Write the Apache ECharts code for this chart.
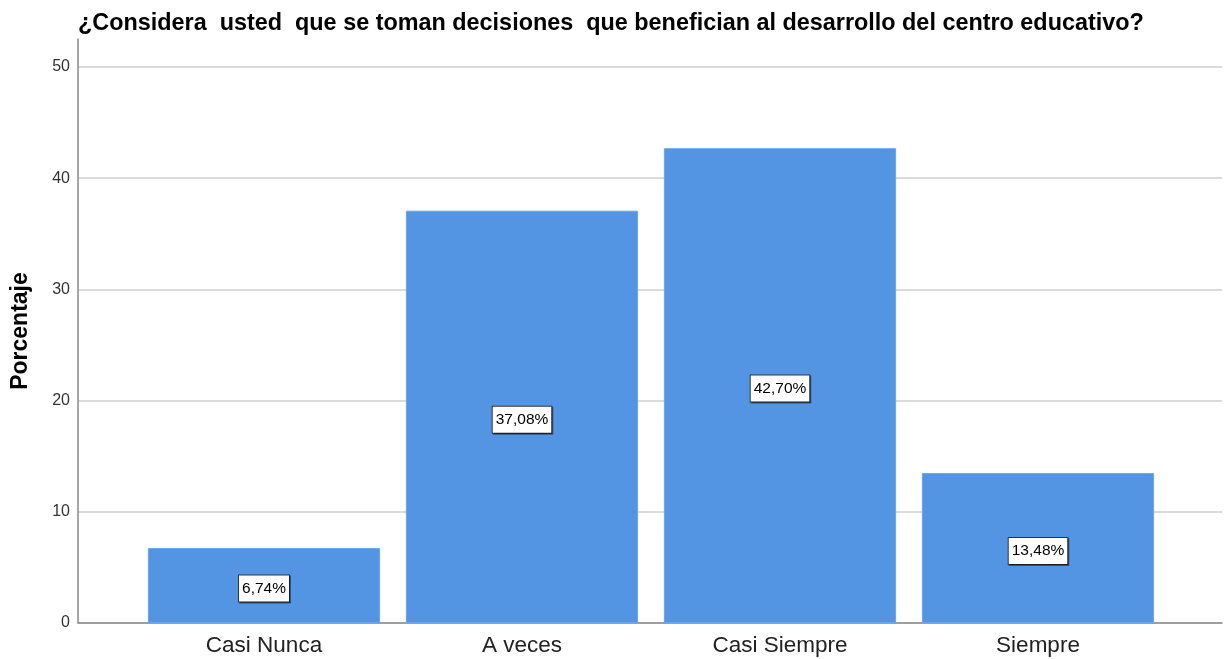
<!DOCTYPE html>
<html>
<head>
<meta charset="utf-8">
<script src="https://cdn.jsdelivr.net/npm/echarts@6/dist/echarts.min.js"></script>
<style>
html,body{margin:0;padding:0;background:#fff;}
#main{width:1227px;height:659px;}
</style>
</head>
<body>
<div id="main"></div>
<script>
var titleText = '¿Considera  usted  que se toman decisiones  que benefician al desarrollo del centro educativo?';
var categories = ['Casi Nunca', 'A veces', 'Casi Siempre', 'Siempre'];
var percentages = [6.74, 37.08, 42.70, 13.48];
var yTicks = [0, 10, 20, 30, 40, 50];

var FONT = '"Liberation Sans", Arial, sans-serif';
var chart = echarts.init(document.getElementById('main'), null, {renderer: 'canvas'});

var option = {
  animation: false,
  backgroundColor: '#ffffff',
  title: {
    text: titleText,
    left: 73,
    top: 7,
    textStyle: {fontFamily: FONT, fontSize: 23.4, fontWeight: 'bold', color: '#000'}
  },
  grid: [
    {left: 78, right: 5, top: 39, bottom: 36, containLabel: false, outerBoundsMode: 'none'},
    {left: 78, right: 5, top: 67, bottom: 36, containLabel: false, outerBoundsMode: 'none'},
    {left: 135, right: 60, top: 67, bottom: 36, containLabel: false, outerBoundsMode: 'none'}
  ],
  xAxis: [
    {gridIndex: 0, type: 'category', data: categories, axisLine: {show: true, lineStyle: {color: '#8a8a8a', width: 1.5}}, axisTick: {show: false}, axisLabel: {show: false}, splitLine: {show: false}},
    {gridIndex: 1, type: 'category', data: categories, show: false},
    {gridIndex: 2, type: 'category', data: categories, boundaryGap: true,
      axisLine: {show: false}, axisTick: {show: false},
      axisLabel: {fontFamily: FONT, fontSize: 22.5, color: '#222', margin: 11}}
  ],
  yAxis: [
    {gridIndex: 0, type: 'value', min: 0, max: 52.5,
      name: 'Porcentaje', nameLocation: 'middle', nameGap: 46,
      nameTextStyle: {fontFamily: FONT, fontSize: 23, fontWeight: 'bold', color: '#000'},
      axisLine: {show: true, lineStyle: {color: '#8a8a8a', width: 1.5}}, axisTick: {show: false}, axisLabel: {show: false}, splitLine: {show: false}},
    {gridIndex: 1, type: 'value', min: yTicks[0], max: yTicks[yTicks.length - 1], interval: 10,
      axisLine: {show: false}, axisTick: {show: false},
      axisLabel: {fontFamily: FONT, fontSize: 16, color: '#333', margin: 8},
      splitLine: {show: true, lineStyle: {color: '#cfcfcf', width: 1.5}}},
    {gridIndex: 2, type: 'value', min: yTicks[0], max: yTicks[yTicks.length - 1], show: false}
  ],
  series: [{
    type: 'bar',
    xAxisIndex: 2,
    yAxisIndex: 2,
    data: percentages,
    barCategoryGap: '10%',
    itemStyle: {color: '#5394e3', borderColor: '#6aa4ea', borderWidth: 1},
    label: {
      show: true,
      position: 'inside',
      offset: [0, 3],
      formatter: function (p) { return p.value.toFixed(2).replace('.', ',') + '%'; },
      fontFamily: FONT, fontSize: 15.5, color: '#000',
      backgroundColor: '#fff', borderColor: '#333', borderWidth: 1,
      padding: [5, 3, 4, 3], lineHeight: 17,
      shadowColor: 'rgba(0,0,0,0.45)', shadowOffsetX: 1, shadowOffsetY: 1, shadowBlur: 0
    }
  }]
};
chart.setOption(option);
</script>
</body>
</html>
